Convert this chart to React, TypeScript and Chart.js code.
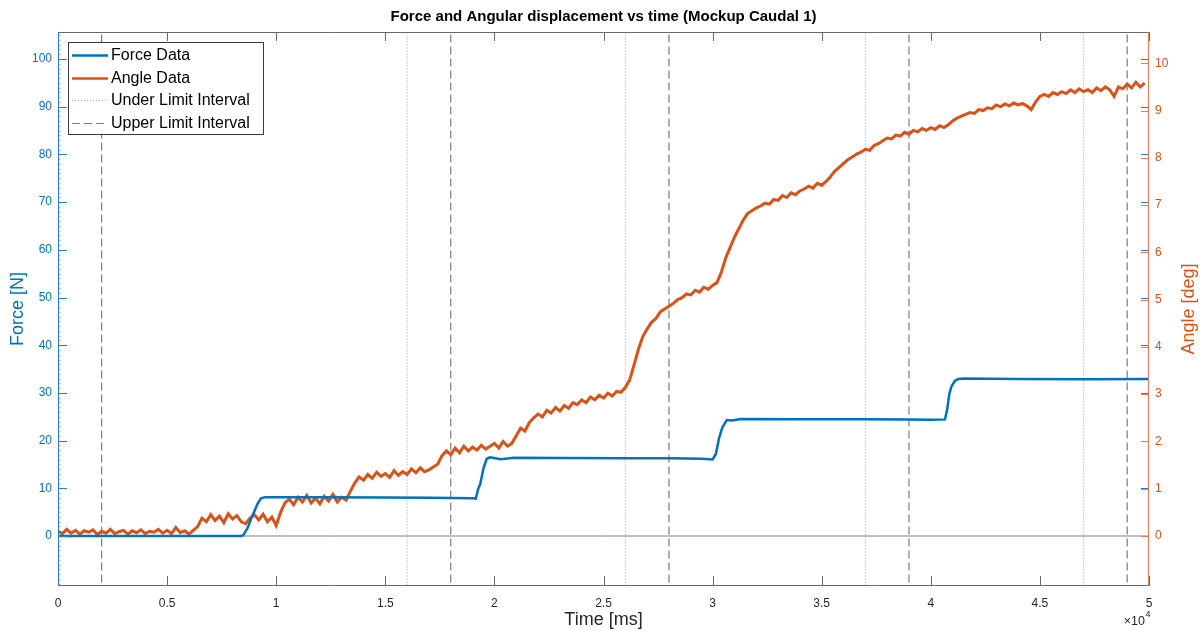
import React, { useEffect, useRef } from "react";
import { Chart, registerables } from "chart.js";

Chart.register(...registerables);

// ---------- data ----------
const angleStepMs = 200; // sampling interval of the angle record
// Angle [deg], one row = 2000 ms (10 samples of 200 ms)
const angleDeg: number[] = [
  0.10, 0.05, 0.14, 0.06, 0.12, 0.04, 0.11, 0.08, 0.13, 0.03, // 0
  0.10, 0.06, 0.14, 0.05, 0.09, 0.12, 0.04, 0.11, 0.07, 0.13, // 2000
  0.05, 0.10, 0.08, 0.14, 0.06, 0.12, 0.05, 0.18, 0.07, 0.11, // 4000
  0.04, 0.12, 0.20, 0.38, 0.30, 0.45, 0.33, 0.42, 0.28, 0.47, // 6000
  0.36, 0.43, 0.30, 0.26, 0.38, 0.45, 0.34, 0.46, 0.30, 0.40, // 8000
  0.22, 0.50, 0.70, 0.78, 0.66, 0.82, 0.72, 0.86, 0.70, 0.80, // 10000
  0.68, 0.84, 0.74, 0.88, 0.72, 0.82, 0.76, 0.95, 1.12, 1.25, // 12000
  1.18, 1.30, 1.22, 1.35, 1.26, 1.32, 1.24, 1.38, 1.28, 1.36, // 14000
  1.30, 1.42, 1.34, 1.44, 1.36, 1.40, 1.46, 1.52, 1.70, 1.80, // 16000
  1.72, 1.86, 1.76, 1.90, 1.80, 1.88, 1.82, 1.92, 1.84, 1.90, // 18000
  1.96, 1.86, 2.00, 1.90, 1.96, 2.12, 2.28, 2.22, 2.40, 2.50, // 20000
  2.58, 2.52, 2.66, 2.60, 2.72, 2.64, 2.76, 2.70, 2.82, 2.78, // 22000
  2.88, 2.82, 2.94, 2.88, 2.98, 2.92, 3.02, 2.96, 3.06, 3.04, // 24000
  3.14, 3.30, 3.62, 3.95, 4.22, 4.38, 4.52, 4.60, 4.74, 4.80, // 26000
  4.86, 4.92, 5.00, 5.04, 5.12, 5.10, 5.20, 5.16, 5.26, 5.22, // 28000
  5.30, 5.36, 5.58, 5.88, 6.10, 6.32, 6.50, 6.68, 6.82, 6.88, // 30000
  6.94, 6.98, 7.04, 7.02, 7.12, 7.10, 7.20, 7.16, 7.26, 7.22, // 32000
  7.30, 7.34, 7.40, 7.36, 7.46, 7.42, 7.50, 7.60, 7.72, 7.80, // 34000
  7.88, 7.96, 8.02, 8.08, 8.12, 8.18, 8.16, 8.26, 8.30, 8.36, // 36000
  8.42, 8.40, 8.48, 8.46, 8.54, 8.50, 8.58, 8.55, 8.62, 8.58, // 38000
  8.64, 8.60, 8.68, 8.64, 8.70, 8.78, 8.84, 8.88, 8.92, 8.96, // 40000
  8.94, 9.02, 9.00, 9.06, 9.04, 9.12, 9.08, 9.14, 9.10, 9.16, // 42000
  9.12, 9.15, 9.10, 9.02, 9.18, 9.30, 9.34, 9.30, 9.38, 9.34, // 44000
  9.40, 9.36, 9.44, 9.38, 9.46, 9.40, 9.44, 9.38, 9.48, 9.42, // 46000
  9.50, 9.44, 9.30, 9.50, 9.46, 9.56, 9.48, 9.60, 9.50, 9.58, // 48000
];

const forceTime: number[] = [
  0, 8400, 8500, 8700, 8850, 9000, 9150, 9300, 9500, 12000, 15000, 17000,
  19000, 19150, 19250, 19350, 19500, 19650, 19800, 20300, 20900, 23000, 26000,
  28000, 29500, 30000, 30150, 30300, 30450, 30650, 30900, 31300, 34000, 37000,
  39000, 40000, 40650, 40750, 40850, 40950, 41100, 41250, 41500, 44000, 47000,
  50000,
];
const forceN: number[] = [
  0, 0, 0.2, 1.8, 3.6, 5.2, 6.8, 7.9, 8.15, 8.1, 8.05, 8.0,
  7.9, 7.85, 9.8, 10.9, 14.2, 16.2, 16.5, 16.1, 16.4, 16.35, 16.3,
  16.3, 16.2, 16.05, 17.2, 20.6, 22.8, 24.3, 24.2, 24.55, 24.5, 24.5,
  24.4, 24.35, 24.45, 26.5, 29.8, 31.4, 32.5, 32.9, 33.0, 32.9, 32.85,
  32.9,
];

const underLimits: number[] = [16000, 26000, 37000, 47000];
const upperLimits: number[] = [2000, 18000, 28000, 39000, 49000];

const xTicks: number[] = [0, 5000, 10000, 15000, 20000, 25000, 30000, 35000, 40000, 45000, 50000];
const xTickLabels: string[] = ["0", "0.5", "1", "1.5", "2", "2.5", "3", "3.5", "4", "4.5", "5"];
const forceTicks: number[] = [0, 10, 20, 30, 40, 50, 60, 70, 80, 90, 100];
const angleTicks: number[] = [0, 1, 2, 3, 4, 5, 6, 7, 8, 9, 10];

const titleText = "Force and Angular displacement vs time (Mockup Caudal 1)";
const xLabel = "Time [ms]";
const forceLabel = "Force [N]";
const angleLabel = "Angle [deg]";
const legendLabels: string[] = ["Force Data", "Angle Data", "Under Limit Interval", "Upper Limit Interval"];

// ---------- styles ----------
const FONT = "'Liberation Sans', Arial, Helvetica, sans-serif";
const BLUE = "#0072BD";
const ORANGE = "#D95319";
const BLUE_AXIS = "rgb(38,128,200)";
const ORANGE_AXIS = "rgb(230,125,85)";
const BOX_GREY = "#6a6a6a";
const UNDER_COLOR = "#a0a0a0";
const UPPER_COLOR = "#7c7c7c";
const UNDER_DASH = [1, 2];
const UPPER_DASH = [8, 4];

const decorPlugin = {
  id: "decor",
  afterDraw(chart: any) {
    const { ctx, chartArea: a, scales } = chart;
    const sx = scales.x;
    const sF = scales.yF;
    const sA = scales.yA;
    const seg = (x1: number, y1: number, x2: number, y2: number) => {
      ctx.beginPath();
      ctx.moveTo(x1, y1);
      ctx.lineTo(x2, y2);
      ctx.stroke();
    };
    ctx.save();
    ctx.setLineDash([]);
    ctx.lineWidth = 1;

    // top / bottom borders and x ticks
    ctx.strokeStyle = BOX_GREY;
    seg(a.left, Math.round(a.top) + 0.5, a.right, Math.round(a.top) + 0.5);
    seg(a.left, Math.round(a.bottom) - 0.5, a.right, Math.round(a.bottom) - 0.5);
    for (const v of xTicks) {
      const px = Math.round(sx.getPixelForValue(v)) + 0.5;
      seg(px, a.bottom, px, a.bottom - 10);
      seg(px, a.top, px, a.top + 9);
    }

    // left axis (force)
    const lx = Math.round(a.left) + 0.5;
    ctx.strokeStyle = "rgba(0,114,189,0.45)";
    for (let v = -10; v <= 105; v += 1) {
      const py = Math.round(sF.getPixelForValue(v)) + 0.5;
      seg(lx, py, lx + 2, py);
    }
    ctx.strokeStyle = BLUE_AXIS;
    seg(lx, a.top, lx, a.bottom);
    for (const v of forceTicks) {
      const py = Math.round(sF.getPixelForValue(v)) + 0.5;
      seg(a.left, py, a.left + 9, py);
      seg(a.right - 8, py, a.right, py);
    }

    // right axis (angle)
    const rx = Math.round(a.right) - 0.5;
    ctx.strokeStyle = ORANGE_AXIS;
    for (const v of angleTicks) {
      const py = Math.round(sA.getPixelForValue(v)) + 0.5;
      seg(a.right - 8, py, a.right, py);
    }
    seg(rx, a.top, rx, a.bottom);

    // legend
    const lgX = 68, lgY = 42, lgW = 195, lgH = 92;
    ctx.fillStyle = "#ffffff";
    ctx.fillRect(lgX, lgY, lgW, lgH);
    ctx.strokeStyle = "#3a3a3a";
    ctx.lineWidth = 1;
    ctx.strokeRect(lgX + 0.5, lgY + 0.5, lgW, lgH);
    const rows = [
      { color: BLUE, width: 2.5, dash: [] as number[] },
      { color: ORANGE, width: 2.5, dash: [] as number[] },
      { color: UNDER_COLOR, width: 1, dash: UNDER_DASH },
      { color: UPPER_COLOR, width: 1.2, dash: UPPER_DASH },
    ];
    ctx.font = `16px ${FONT}`;
    ctx.textBaseline = "middle";
    ctx.textAlign = "left";
    rows.forEach((r, i) => {
      const cy = 55 + i * 22.5;
      ctx.strokeStyle = r.color;
      ctx.lineWidth = r.width;
      ctx.setLineDash(r.dash);
      seg(72, Math.round(cy) + 0.5, 108, Math.round(cy) + 0.5);
      ctx.setLineDash([]);
      ctx.fillStyle = "#000000";
      ctx.fillText(legendLabels[i], 111, cy + 1);
    });

    // title
    const cx = (a.left + a.right) / 2;
    ctx.fillStyle = "#000000";
    ctx.font = `bold 15px ${FONT}`;
    ctx.textAlign = "center";
    ctx.textBaseline = "middle";
    ctx.fillText(titleText, cx, 17);

    // x label
    ctx.font = `18px ${FONT}`;
    ctx.fillStyle = "#262626";
    ctx.fillText(xLabel, cx, 620);

    // y labels
    const cyMid = (a.top + a.bottom) / 2;
    ctx.save();
    ctx.translate(18, cyMid);
    ctx.rotate(-Math.PI / 2);
    ctx.fillStyle = BLUE;
    ctx.fillText(forceLabel, 0, 0);
    ctx.restore();
    ctx.save();
    ctx.translate(1189, cyMid);
    ctx.rotate(-Math.PI / 2);
    ctx.fillStyle = ORANGE;
    ctx.fillText(angleLabel, 0, 0);
    ctx.restore();

    // x exponent
    ctx.fillStyle = "#262626";
    ctx.textAlign = "right";
    ctx.textBaseline = "alphabetic";
    ctx.font = `12.5px ${FONT}`;
    ctx.fillText("\u00d710", 1145, 624.5);
    ctx.textAlign = "left";
    ctx.font = `9px ${FONT}`;
    ctx.fillText("4", 1145.5, 617);

    ctx.restore();
  },
};

export default function App() {
  const ref = useRef<HTMLCanvasElement | null>(null);

  useEffect(() => {
    if (!ref.current) return;

    const limitSets: any[] = [];
    underLimits.forEach((t) =>
      limitSets.push({
        label: "Under Limit Interval",
        data: [{ x: t, y: -50 }, { x: t, y: 200 }],
        yAxisID: "yF",
        borderColor: UNDER_COLOR,
        borderWidth: 1,
        borderDash: UNDER_DASH,
        pointRadius: 0,
        order: 3,
      })
    );
    upperLimits.forEach((t) =>
      limitSets.push({
        label: "Upper Limit Interval",
        data: [{ x: t, y: -50 }, { x: t, y: 200 }],
        yAxisID: "yF",
        borderColor: UPPER_COLOR,
        borderWidth: 1.2,
        borderDash: UPPER_DASH,
        pointRadius: 0,
        order: 3,
      })
    );

    const chart = new Chart(ref.current, {
      type: "line",
      data: {
        datasets: [
          {
            label: "Force Data",
            data: forceTime.map((t, i) => ({ x: t, y: forceN[i] })),
            yAxisID: "yF",
            borderColor: BLUE,
            borderWidth: 2.5,
            pointRadius: 0,
            tension: 0,
            order: 0,
          },
          {
            label: "Angle Data",
            data: angleDeg.map((v, i) => ({ x: i * angleStepMs, y: v })),
            yAxisID: "yA",
            borderColor: ORANGE,
            borderWidth: 3,
            borderJoinStyle: "miter",
            pointRadius: 0,
            tension: 0,
            order: 1,
          },
          ...limitSets,
          {
            label: "zero",
            data: [{ x: 0, y: 0 }, { x: 50000, y: 0 }],
            yAxisID: "yF",
            borderColor: "#808080",
            borderWidth: 1,
            pointRadius: 0,
            order: 4,
          },
        ],
      },
      options: {
        responsive: false,
        animation: false,
        parsing: false as any,
        normalized: true,
        layout: { padding: { top: 32, left: 0, right: 0, bottom: 0 } },
        plugins: {
          legend: { display: false },
          title: { display: false },
          tooltip: { enabled: false },
        },
        events: [],
        scales: {
          x: {
            type: "linear",
            min: 0,
            max: 50000,
            grid: { display: false, drawTicks: false },
            border: { display: false },
            afterBuildTicks: (s: any) => {
              s.ticks = xTicks.map((v) => ({ value: v }));
            },
            afterFit: (s: any) => {
              s.height = 45;
            },
            ticks: {
              padding: 10,
              maxRotation: 0,
              autoSkip: false,
              color: "#262626",
              font: { family: FONT, size: 12 },
              callback: (v: any) => xTickLabels[xTicks.indexOf(Number(v))] ?? "",
            },
          },
          yF: {
            type: "linear",
            position: "left",
            min: -10.48,
            max: 105.66,
            grid: { display: false, drawTicks: false },
            border: { display: false },
            afterBuildTicks: (s: any) => {
              s.ticks = forceTicks.map((v) => ({ value: v }));
            },
            afterFit: (s: any) => {
              s.width = 58;
            },
            ticks: {
              padding: 6,
              autoSkip: false,
              color: BLUE,
              font: { family: FONT, size: 12 },
            },
          },
          yA: {
            type: "linear",
            position: "right",
            min: -1.058,
            max: 10.662,
            grid: { display: false, drawTicks: false },
            border: { display: false },
            afterBuildTicks: (s: any) => {
              s.ticks = angleTicks.map((v) => ({ value: v }));
            },
            afterFit: (s: any) => {
              s.width = 53;
            },
            ticks: {
              padding: 6,
              autoSkip: false,
              color: ORANGE,
              font: { family: FONT, size: 12 },
            },
          },
        },
      } as any,
      plugins: [decorPlugin],
    });

    return () => chart.destroy();
  }, []);

  return (
    <div style={{ position: "absolute", left: 0, top: 0, width: 1202, height: 631, background: "#ffffff" }}>
      <canvas ref={ref} width={1202} height={631} />
    </div>
  );
}
